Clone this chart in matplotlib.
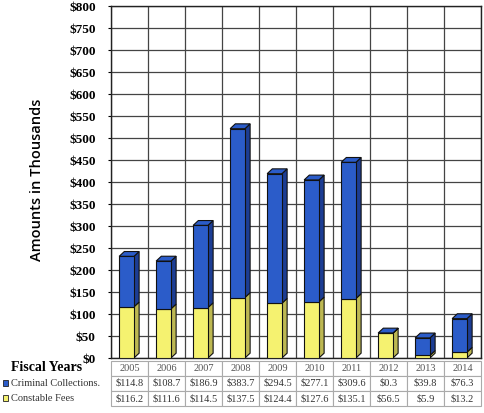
import matplotlib.pyplot as plt
from matplotlib.patches import Polygon, Rectangle

years = ['2005', '2006', '2007', '2008', '2009', '2010', '2011', '2012', '2013', '2014']
criminal = [114.8, 108.7, 186.9, 383.7, 294.5, 277.1, 309.6, 0.3, 39.8, 76.3]
constable = [116.2, 111.6, 114.5, 137.5, 124.4, 127.6, 135.1, 56.5, 5.9, 13.2]
criminal_txt = ['$114.8', '$108.7', '$186.9', '$383.7', '$294.5', '$277.1', '$309.6', '$0.3', '$39.8', '$76.3']
constable_txt = ['$116.2', '$111.6', '$114.5', '$137.5', '$124.4', '$127.6', '$135.1', '$56.5', '$5.9', '$13.2']
row_names = ['Criminal Collections.', 'Constable Fees']

blue, blue_side = '#2b5cc9', '#1c3d94'
yellow, yellow_side = '#f5f270', '#bdb852'

plt.rcParams['font.family'] = ['Liberation Serif', 'DejaVu Serif']

fig = plt.figure(figsize=(4.84, 4.13), dpi=100)
ax = fig.add_axes([111 / 484, 1 - 358 / 413, 370 / 484, 352 / 413])

w, dx, dy = 0.40, 0.14, 11  # bar width and fake 3d depth
left = [i + 0.22 for i in range(len(years))]


def side_and_top(x, y0, y1, side, top=None):
    ax.add_patch(Polygon([(x + w, y0), (x + w + dx, y0 + dy), (x + w + dx, y1 + dy), (x + w, y1)],
                         closed=True, fc=side, ec='#111', lw=0.8, zorder=3))
    if top:
        ax.add_patch(Polygon([(x, y1), (x + dx, y1 + dy), (x + w + dx, y1 + dy), (x + w, y1)],
                             closed=True, fc=top, ec='#111', lw=0.8, zorder=3))


ax.bar(left, constable, width=w, align='edge', color=yellow, edgecolor='#111', lw=0.8, zorder=4)
ax.bar(left, criminal, width=w, bottom=constable, align='edge', color=blue, edgecolor='#111', lw=0.8, zorder=4)
for x, c, k in zip(left, constable, criminal):
    side_and_top(x, 0, c, yellow_side)
    side_and_top(x, c, c + k, blue_side, blue)

ax.set_xlim(0, 10)
ax.set_ylim(0, 800)
ax.set_yticks(range(0, 801, 50))
ax.set_yticklabels(['$%d' % v for v in range(0, 801, 50)], fontsize=9.5, fontweight='bold')
ax.set_xticks(range(11))
ax.set_xticklabels([])
ax.tick_params(axis='x', length=0)
ax.tick_params(axis='y', length=2, pad=9)
ax.grid(True, color='#444', lw=0.9)
ax.set_axisbelow(True)
for s in ax.spines.values():
    s.set_color('#222')
    s.set_linewidth(1.0)

fig.text(37 / 484, 1 - 180 / 413, 'Amounts in Thousands', rotation=90, ha='center', va='center',
         fontsize=10.5, fontweight='semibold', family=['Open Sans', 'DejaVu Sans'])

# data table
tax = fig.add_axes([0, 1 - 406 / 413, 481 / 484, 45 / 413])
tax.axis('off')
cells = [[''] + years, [row_names[0]] + criminal_txt, [row_names[1]] + constable_txt]
tbl = tax.table(cellText=cells, bbox=[0, 0, 1, 1], cellLoc='center', edges='closed')
tbl.auto_set_font_size(False)
lab_w = 111 / 481
col_w = (1 - lab_w) / 10
for (r, c), cell in tbl.get_celld().items():
    cell.set_width(lab_w if c == 0 else col_w)
    cell.set_edgecolor('#aaa')
    cell.set_linewidth(0.8)
    cell.get_text().set_fontsize(7.5)
    cell.get_text().set_color('#333' if r else '#555')
    if c == 0:
        cell.visible_edges = ''
        cell.get_text().set_ha('left')
        cell._loc = 'left'
        cell.PAD = 0.1

tax.text(47 / 481, 2.55 / 3, 'Fiscal Years', ha='center', va='center', fontsize=10, fontweight='bold')
for i, col in enumerate([blue, yellow]):
    tax.add_patch(Rectangle((3 / 481, (1.5 - i) / 3 - 0.05), 5 / 481, 0.12, fc=col, ec='#222', lw=0.6,
                            transform=tax.transAxes, clip_on=False))

fig.savefig('out.png', dpi=100)
